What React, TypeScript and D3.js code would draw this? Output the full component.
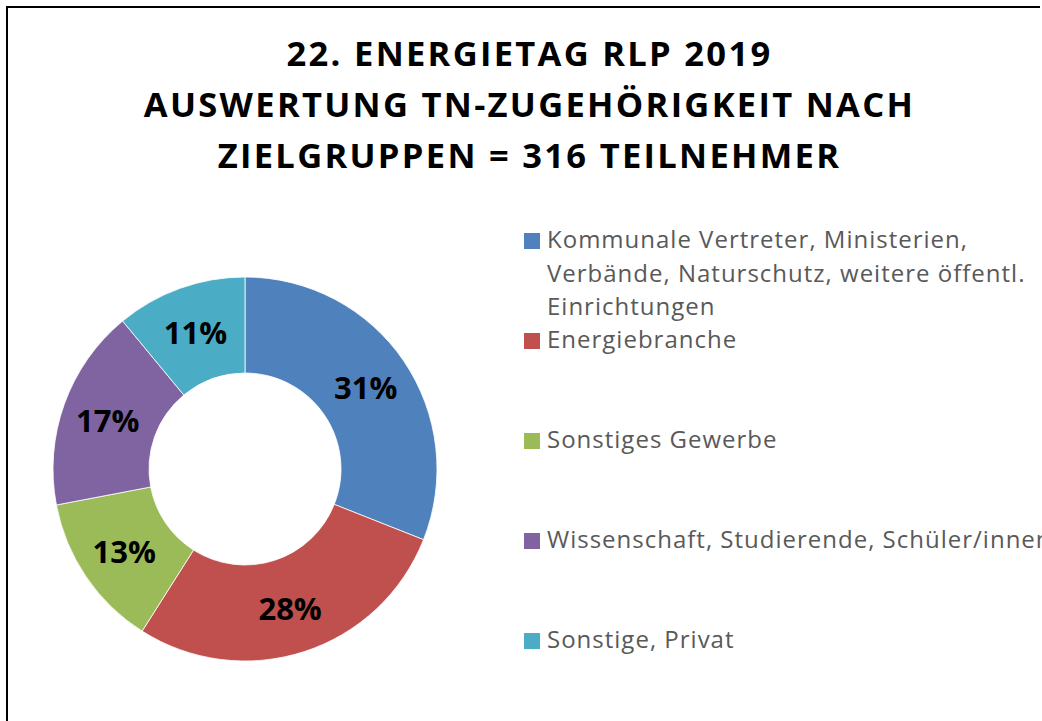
import React from "react";
import * as d3 from "d3";

const categories = [
  "Kommunale Vertreter, Ministerien, Verbände, Naturschutz, weitere öffentl. Einrichtungen",
  "Energiebranche",
  "Sonstiges Gewerbe",
  "Wissenschaft, Studierende, Schüler/innen",
  "Sonstige, Privat",
];
const legendLines = [
  ["Kommunale Vertreter, Ministerien,", "Verbände, Naturschutz, weitere öffentl.", "Einrichtungen"],
  ["Energiebranche"],
  ["Sonstiges Gewerbe"],
  ["Wissenschaft, Studierende, Schüler/innen"],
  ["Sonstige, Privat"],
];
const values = [31, 28, 13, 17, 11];
const colors = ["#4F81BD", "#C0504D", "#9BBB59", "#8064A2", "#4BACC6"];
const titleLines = [
  "22. ENERGIETAG RLP 2019",
  "AUSWERTUNG TN-ZUGEHÖRIGKEIT NACH",
  "ZIELGRUPPEN = 316 TEILNEHMER",
];

const W = 1042;
const H = 721;

export default function App() {
  const cx = 245;
  const cy = 469;
  const outerR = 192;
  const innerR = 96;
  const pie = d3.pie<number>().sort(null).value((d) => d);
  const arcs = pie(values);
  const arc = d3.arc<d3.PieArcDatum<number>>().innerRadius(innerR).outerRadius(outerR);
  const labelArc = d3.arc<d3.PieArcDatum<number>>().innerRadius(innerR + 2).outerRadius(outerR + 2);
  const total = d3.sum(values);

  const legendY = d3.scaleLinear().domain([0, 4]).range([248, 648]);

  const font = "'Open Sans', sans-serif";

  return (
    <svg
      width={W}
      height={H}
      style={{ position: "absolute", left: 0, top: 0, background: "#fff" }}
      fontFamily={font}
    >
      <rect x={0} y={0} width={W} height={H} fill="#fff" />
      <path d={`M7,${H + 2} V7 H1040`} fill="none" stroke="#000" strokeWidth={2} />
      {titleLines.map((t, i) => (
        <text
          key={i}
          x={529.5}
          y={65.5 + i * 51}
          textAnchor="middle"
          fontSize={34.5}
          fontWeight={700}
          letterSpacing={2.3}
          fill="#000"
        >
          {t}
        </text>
      ))}
      <g transform={`translate(${cx},${cy})`}>
        {arcs.map((a, i) => (
          <path key={i} d={arc(a) || ""} fill={colors[i]} stroke="#fff" strokeWidth={0.8} />
        ))}
        {arcs.map((a, i) => {
          const [x, y] = labelArc.centroid(a);
          return (
            <text
              key={i}
              x={x}
              y={y}
              textAnchor="middle"
              dominantBaseline="central"
              fontSize={31}
              fontWeight={700}
              fill="#000"
            >
              {`${Math.round((a.data / total) * 100)}%`}
            </text>
          );
        })}
      </g>
      {categories.map((c, i) => (
        <g key={c}>
          <rect x={524} y={legendY(i) - 15} width={16} height={16} fill={colors[i]} />
          {legendLines[i].map((l, j) => (
            <text
              key={j}
              x={547}
              y={legendY(i) + j * 33.5}
              fontSize={24}
              letterSpacing={1.0}
              fill="#595959"
            >
              {l}
            </text>
          ))}
        </g>
      ))}
    </svg>
  );
}
